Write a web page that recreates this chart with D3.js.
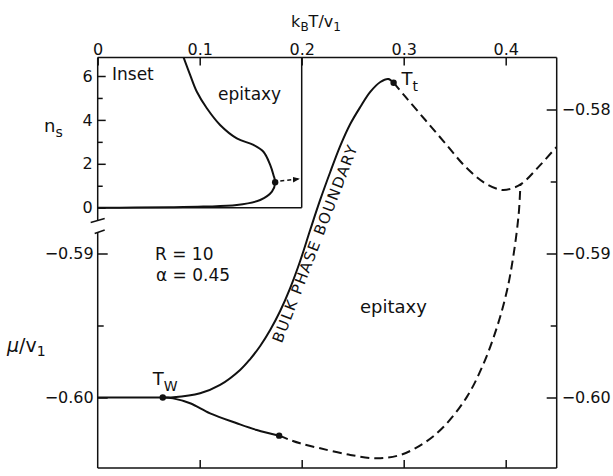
<!DOCTYPE html>
<html>
<head>
<meta charset="utf-8">
<script src="https://cdn.jsdelivr.net/npm/d3@7"></script>
<style>
  body { margin: 0; background: #fff; }
  svg { display: block; }
  text { font-family: "DejaVu Sans", sans-serif; fill: #111; }
</style>
</head>
<body>
<svg id="chart" width="613" height="476"></svg>
<script>
// Phase diagram: chemical potential vs. temperature (R = 10, alpha = 0.45)

// Axis ticks
const tempTicks = [0, 0.1, 0.2, 0.3, 0.4];
const tempTickLabels = ["0", "0.1", "0.2", "0.3", "0.4"];
const muLeftTicks = [-0.60, -0.59];
const muRightTicks = [-0.60, -0.59, -0.58];
const muMinorLeft = [-0.595];
const muMinorRight = [-0.595, -0.585];
const nsTicks = [0, 2, 4, 6];
const nsMinor = [1, 3, 5];

// Bulk phase boundary, T = 0 up to the tricritical point (solid)
const boundarySolid = [
  [0.000, -0.60000], [0.0415, -0.60000], [0.0638, -0.60000], [0.0742, -0.59999],
  [0.1004, -0.59971], [0.1200, -0.59913], [0.1396, -0.59809], [0.1495, -0.59733],
  [0.1593, -0.59642], [0.1691, -0.59531], [0.1789, -0.59399], [0.1887, -0.59240],
  [0.1985, -0.59052], [0.2083, -0.58837], [0.2181, -0.58628], [0.2280, -0.58434],
  [0.2378, -0.58253], [0.2476, -0.58101], [0.2574, -0.57983], [0.2672, -0.57878],
  [0.2771, -0.57809], [0.2849, -0.57788], [0.2901, -0.57814]
];
// Continuation above the tricritical point (dashed)
const boundaryDashed = [
  [0.2901, -0.57814], [0.3016, -0.57911], [0.3212, -0.58073], [0.3408, -0.58235],
  [0.3605, -0.58397], [0.3801, -0.58513], [0.3965, -0.58559], [0.4063, -0.58547],
  [0.4161, -0.58513], [0.4324, -0.58397], [0.4488, -0.58269], [0.4530, -0.58240]
];
// Lower epitaxy line from the wetting point (solid part)
const lowerSolid = [
  [0.0638, -0.60000], [0.0739, -0.60006], [0.0906, -0.60040], [0.1102, -0.60110],
  [0.1364, -0.60179], [0.1560, -0.60226], [0.1779, -0.60265]
];
// Lower epitaxy line, dashed part, closing onto the upper dashed branch
const lowerDashed = [
  [0.1779, -0.60265], [0.1887, -0.60295], [0.1985, -0.60318], [0.2182, -0.60353],
  [0.2476, -0.60399], [0.2738, -0.60422], [0.2967, -0.60399], [0.3195, -0.60318],
  [0.3392, -0.60203], [0.3621, -0.59994], [0.3784, -0.59763], [0.3916, -0.59508],
  [0.4014, -0.59253], [0.4079, -0.58999], [0.4128, -0.58721], [0.4144, -0.58524]
];
// Special points
const wettingPoint = [0.0638, -0.60000];
const tricriticalPoint = [0.2901, -0.57814];
const lowerEndPoint = [0.1779, -0.60265];

// Inset: number of surface layers n_s vs temperature
const insetCurve = [
  [0.0830, 7.00], [0.0906, 6.05], [0.0972, 5.28], [0.1070, 4.53], [0.1200, 3.77],
  [0.1364, 3.16], [0.1527, 2.86], [0.1625, 2.55], [0.1691, 1.95], [0.1723, 1.49],
  [0.1740, 1.16], [0.1708, 0.73], [0.1593, 0.35], [0.1364, 0.12], [0.1036, 0.05],
  [0.0710, 0.02], [0.0366, 0.005], [0.000, 0.00]
];
const insetPoint = [0.1740, 1.16];
const insetArrow = [[0.1790, 1.22], [0.1975, 1.31]];

const svg = d3.select("#chart");

// Layout
const frameTop = 57.5, frameBottom = 468;
const x = d3.scaleLinear().domain([0, 0.45]).range([97.7, 556.7]);
const y = d3.scaleLinear().domain([-0.60, -0.58]).range([397.5, 109.5]);
const yIn = d3.scaleLinear().domain([0, 6]).range([207.7, 76]);
const left = x(0), right = x(0.45);
const insetRight = x(0.2), insetBottom = yIn(0);

const defs = svg.append("defs");
defs.append("clipPath").attr("id", "mainClip").append("rect")
  .attr("x", left).attr("y", frameTop).attr("width", right - left).attr("height", frameBottom - frameTop);
defs.append("clipPath").attr("id", "insetClip").append("rect")
  .attr("x", left).attr("y", frameTop).attr("width", insetRight - left).attr("height", insetBottom - frameTop + 2);
defs.append("marker").attr("id", "arrow").attr("viewBox", "0 0 10 10")
  .attr("refX", 9).attr("refY", 5).attr("markerWidth", 7).attr("markerHeight", 7)
  .attr("markerUnits", "userSpaceOnUse").attr("orient", "auto")
  .append("path").attr("d", "M0,1 L10,5 L0,9 Z").attr("fill", "#111");

const ink = "#111";

// Frame
const frame = svg.append("g").attr("stroke", ink).attr("stroke-width", 1.5).attr("fill", "none");
frame.append("line").attr("x1", left).attr("x2", right).attr("y1", frameTop).attr("y2", frameTop);
frame.append("line").attr("x1", left).attr("x2", right).attr("y1", frameBottom).attr("y2", frameBottom);
frame.append("line").attr("x1", right).attr("x2", right).attr("y1", frameTop).attr("y2", frameBottom);
// left axis with a break between the inset and the main scale
frame.append("line").attr("x1", left).attr("x2", left).attr("y1", frameTop).attr("y2", 221);
frame.append("line").attr("x1", left).attr("x2", left).attr("y1", 232).attr("y2", frameBottom);
frame.append("line").attr("x1", left - 7).attr("x2", left + 7).attr("y1", 222.5).attr("y2", 218.5);
frame.append("line").attr("x1", left - 3).attr("x2", left + 7).attr("y1", 233.5).attr("y2", 230);
// inset box
frame.append("line").attr("x1", insetRight).attr("x2", insetRight).attr("y1", frameTop).attr("y2", insetBottom);
frame.append("line").attr("x1", left).attr("x2", insetRight).attr("y1", insetBottom).attr("y2", insetBottom);

function styleAxis(g) {
  g.select(".domain").remove();
  g.selectAll(".tick line").attr("stroke", ink).attr("stroke-width", 1.5);
  g.selectAll(".tick text").attr("font-size", 16).attr("fill", ink)
    .style("font-family", "'DejaVu Sans', sans-serif");
}

// Top temperature axis
svg.append("g").attr("transform", `translate(0,${frameTop})`)
  .call(d3.axisTop(x).tickValues(tempTicks).tickSize(-8).tickPadding(3)
    .tickFormat((d, i) => tempTickLabels[i]))
  .call(styleAxis);
// Bottom axis (ticks only)
svg.append("g").attr("transform", `translate(0,${frameBottom})`)
  .call(d3.axisBottom(x).tickValues(tempTicks.slice(1)).tickSize(-8).tickFormat(""))
  .call(styleAxis);
// Left mu axis
svg.append("g").attr("transform", `translate(${left},0)`)
  .call(d3.axisLeft(y).tickValues(muLeftTicks).tickSize(-10).tickPadding(4).tickFormat(d3.format(".2f")))
  .call(styleAxis);
svg.append("g").attr("transform", `translate(${left},0)`)
  .call(d3.axisLeft(y).tickValues(muMinorLeft).tickSize(-6).tickFormat(""))
  .call(styleAxis);
// Right mu axis
svg.append("g").attr("transform", `translate(${right},0)`)
  .call(d3.axisRight(y).tickValues(muRightTicks).tickSize(-10).tickPadding(5).tickFormat(d3.format(".2f")))
  .call(styleAxis);
svg.append("g").attr("transform", `translate(${right},0)`)
  .call(d3.axisRight(y).tickValues(muMinorRight).tickSize(-6).tickFormat(""))
  .call(styleAxis);
// Inset n_s axis
svg.append("g").attr("transform", `translate(${left},0)`)
  .call(d3.axisLeft(yIn).tickValues(nsTicks).tickSize(-8).tickPadding(5).tickFormat(d3.format("d")))
  .call(styleAxis);
svg.append("g").attr("transform", `translate(${left},0)`)
  .call(d3.axisLeft(yIn).tickValues(nsMinor).tickSize(-5).tickFormat(""))
  .call(styleAxis);

// Curves
const line = d3.line().x(d => x(d[0])).y(d => y(d[1])).curve(d3.curveCatmullRom.alpha(0.5));
const lineIn = d3.line().x(d => x(d[0])).y(d => yIn(d[1])).curve(d3.curveCatmullRom.alpha(0.5));

const curves = svg.append("g").attr("clip-path", "url(#mainClip)")
  .attr("fill", "none").attr("stroke", ink).attr("stroke-width", 2);
curves.append("path").attr("d", line(boundarySolid));
curves.append("path").attr("d", line(lowerSolid));
curves.append("path").attr("d", line(boundaryDashed)).attr("stroke-dasharray", "9,5");
curves.append("path").attr("d", line(lowerDashed)).attr("stroke-dasharray", "9,5");

svg.append("g").selectAll("circle")
  .data([wettingPoint, tricriticalPoint, lowerEndPoint])
  .join("circle")
  .attr("cx", d => x(d[0])).attr("cy", d => y(d[1])).attr("r", 3.2).attr("fill", ink);

// Inset curve
const inset = svg.append("g");
inset.append("path").attr("clip-path", "url(#insetClip)")
  .attr("d", lineIn(insetCurve)).attr("fill", "none").attr("stroke", ink).attr("stroke-width", 2);
inset.append("circle").attr("cx", x(insetPoint[0])).attr("cy", yIn(insetPoint[1])).attr("r", 3.2).attr("fill", ink);
inset.append("path")
  .attr("d", d3.line().x(d => x(d[0])).y(d => yIn(d[1]))(insetArrow))
  .attr("fill", "none").attr("stroke", ink).attr("stroke-width", 1.5)
  .attr("stroke-dasharray", "4,3").attr("marker-end", "url(#arrow)");

// Text annotations
function sub(t, main, s, size, shift) {
  t.append("tspan").text(main);
  t.append("tspan").attr("dy", shift).attr("font-size", size).text(s);
  return t;
}

const title = svg.append("text").attr("x", 316).attr("y", 27).attr("text-anchor", "middle").attr("font-size", 16);
title.append("tspan").text("k");
title.append("tspan").attr("dy", 4).attr("font-size", 12).text("B");
title.append("tspan").attr("dy", -4).text("T/v");
title.append("tspan").attr("dy", 4).attr("font-size", 12).text("1");

const ylab = svg.append("text").attr("x", 7).attr("y", 352).attr("font-size", 19);
ylab.append("tspan").attr("font-style", "italic").text("μ");
ylab.append("tspan").text("/v");
ylab.append("tspan").attr("dy", 4).attr("font-size", 14).text("1");

const nlab = svg.append("text").attr("x", 44).attr("y", 132).attr("font-size", 18);
sub(nlab, "n", "s", 14, 5);

svg.append("text").attr("x", 112).attr("y", 80).attr("font-size", 17).text("Inset");
svg.append("text").attr("x", 218).attr("y", 100).attr("font-size", 17).text("epitaxy");
svg.append("text").attr("x", 360).attr("y", 313).attr("font-size", 18).text("epitaxy");
svg.append("text").attr("x", 155).attr("y", 260).attr("font-size", 17).text("R = 10");
svg.append("text").attr("x", 156).attr("y", 281).attr("font-size", 17).text("α = 0.45");

const tw = svg.append("text").attr("x", x(wettingPoint[0]) - 10).attr("y", y(wettingPoint[1]) - 13).attr("font-size", 18);
sub(tw, "T", "W", 14, 6);
const tt = svg.append("text").attr("x", x(tricriticalPoint[0]) + 8).attr("y", y(tricriticalPoint[1]) + 2).attr("font-size", 18);
sub(tt, "T", "t", 14, 6);

svg.append("text")
  .attr("transform", "translate(315,244) rotate(-68.8)")
  .attr("text-anchor", "middle").attr("dominant-baseline", "central")
  .attr("font-size", 15).attr("textLength", 210).attr("lengthAdjust", "spacing")
  .text("BULK PHASE BOUNDARY");
</script>
</body>
</html>
